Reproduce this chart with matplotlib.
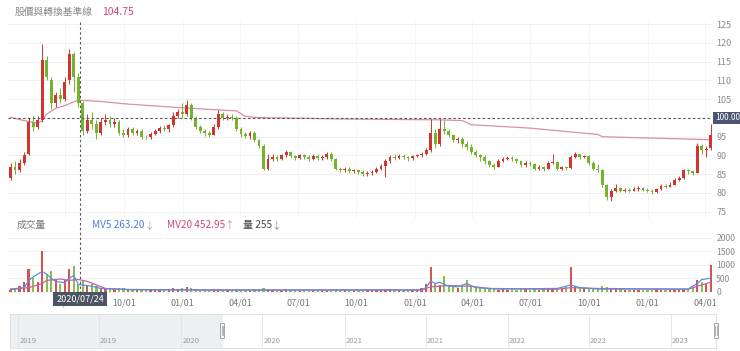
import numpy as np
import pandas as pd
import matplotlib
matplotlib.use('Agg')
import matplotlib.pyplot as plt
import matplotlib.dates as mdates
import matplotlib.transforms as mtrans
from matplotlib.ticker import FuncFormatter
from matplotlib.patches import Rectangle
from matplotlib.lines import Line2D

plt.rcParams['font.family'] = ['Noto Sans CJK TC', 'DejaVu Sans']

# ---------------- data (weekly bars) ----------------
bar_dates = pd.date_range('2020-04-06', '2023-04-10', periods=156)

opens = [84, 87, 86, 88, 90.5, 99, 97.5, 99.5, 115.5, 110,
         104, 106, 105, 110, 117, 111, 104, 96.5, 99.5, 98.5,
         96, 99, 99.5, 98.5, 99, 96, 95.5, 97, 96, 96.5,
         95, 94.8, 95.8, 96.5, 97.3, 97, 98, 100.5, 101.5, 101,
         103.5, 100, 97.5, 96.5, 96, 95.5, 97.5, 101, 100, 100.3,
         100, 97, 95.8, 95.2, 96, 94, 92.5, 86.5, 89, 89.5,
         89, 90, 91, 89.8, 89.3, 90, 89.5, 89, 89.8, 89.2,
         89.5, 90.5, 89, 86.5, 86, 86.3, 85.8, 86, 85.5, 85,
         85.2, 85.5, 86.5, 87.3, 88.5, 89.5, 89.3, 89.8, 89.5, 89.2,
         89.8, 90, 90.3, 91.5, 96, 93, 97, 96.5, 95.5, 94,
         94.5, 93, 92.3, 91, 90, 89.5, 88.5, 87.5, 87, 88.5,
         89, 89.3, 89, 88.5, 87.5, 88, 87.8, 86.5, 87, 86.5,
         88, 88.2, 86.5, 86.8, 86.6, 89.5, 90.3, 89.5, 89.8, 88,
         86.5, 86, 82, 79, 80.5, 81.3, 80.6, 80.8, 80.6, 81,
         81.2, 80.8, 80.5, 80.3, 81, 81.8, 81.7, 82.2, 83.5, 84,
         86, 85.8, 85.3, 92.5, 91.5, 92]

closes = [87, 86, 88, 90, 99, 97.5, 99.5, 115.5, 111, 104,
          106, 105, 109.5, 117, 111, 104, 96.5, 99.5, 98.5, 96,
          99, 99.5, 98.5, 99, 96, 95.5, 97, 96, 96.5, 95,
          94.8, 95.8, 96.5, 97.3, 97, 98, 100.5, 101.5, 101, 103.5,
          100, 97.5, 96.5, 96, 95.5, 97.5, 101, 100, 100.3, 100,
          97, 95.8, 95.2, 96, 94, 92.5, 86.5, 89, 89.5, 89,
          90, 91, 89.8, 89.3, 90, 89.5, 89, 89.8, 89.2, 89.5,
          90.5, 89, 86.5, 86, 86.3, 85.8, 86, 85.5, 85, 85.2,
          85.5, 86.5, 87.3, 88.5, 89.5, 89.3, 89.8, 89.5, 89.2, 89.8,
          90, 90.3, 91.5, 96, 93, 97, 96.5, 95.5, 94, 94.5,
          93, 92.3, 91, 90, 89.5, 88.5, 87.5, 87, 88.5, 89,
          89.3, 89, 88.5, 87.5, 88, 87.8, 86.5, 87, 86.5, 88,
          88.2, 86.5, 86.8, 86.6, 89.5, 90.3, 89.5, 89.8, 88, 86.5,
          86, 82, 79, 80.5, 81.3, 80.6, 80.8, 80.6, 81, 81.2,
          80.8, 80.5, 80.3, 81, 81.8, 81.7, 82.2, 83.5, 84, 86,
          85.8, 85.3, 92.5, 91.5, 91.8, 95.5]

highs = [88, 88.5, 89, 91, 100, 100.5, 100.5, 119.6, 116.5, 111,
         107, 108, 111, 118.5, 117.5, 112, 104.5, 101, 101.5, 99.5,
         100, 101, 100.5, 100, 99.5, 97, 97.5, 97.5, 97, 97,
         95.5, 96.3, 97, 97.8, 98, 98.5, 101.5, 102.5, 104, 104.8,
         104, 100.5, 98, 97, 96.5, 98.5, 102, 101.5, 101, 101,
         100.5, 97.5, 96.2, 96.5, 96.5, 94.5, 93, 90.5, 90.5, 90,
         90.5, 91.5, 91.2, 90.2, 90.5, 90.5, 90.2, 90.3, 90.5, 90,
         91, 90.8, 89.2, 87, 86.8, 86.8, 86.5, 86.3, 86, 85.8,
         86, 87, 87.8, 89, 90.2, 90.3, 90.4, 90.3, 89.8, 90.2,
         90.5, 90.8, 92, 99.8, 97, 99.6, 99.5, 97, 95.8, 95,
         95, 93.8, 93, 91.5, 90.5, 90, 88.8, 88, 89, 89.5,
         89.8, 89.8, 89.3, 88.8, 88.5, 88.5, 88, 87.5, 87.3, 88.5,
         90.3, 88.5, 87.3, 87.2, 90, 90.8, 90.5, 90, 90, 88.5,
         87.8, 86.5, 82.5, 81, 82.5, 81.5, 81.3, 81.2, 81.5, 81.8,
         81.5, 81.2, 81, 81.3, 82.3, 82.3, 82.8, 84, 84.5, 86.5,
         86.3, 86, 93.3, 93, 92.5, 98.5]

lows = [83.5, 85, 85.5, 87.5, 90, 96.5, 97, 99, 110, 102.5,
        103, 104, 104.5, 109, 107, 103, 95.5, 96, 97, 94.5,
        95.5, 98, 97.5, 97.5, 95.5, 94.8, 95, 95.5, 95.5, 94.5,
        94.3, 94.5, 95.5, 96, 96.5, 96.2, 97.5, 100, 100, 100.5,
        99.5, 97, 96, 95.3, 95, 95.5, 97, 99.5, 99.5, 99.5,
        96.5, 95, 94.7, 94.5, 93.5, 92, 86, 86, 88.5, 88.5,
        88.8, 89.5, 89.3, 88.8, 89, 89, 88.5, 88.7, 88.8, 88.8,
        89, 88.5, 86, 85.5, 85.5, 85.3, 85.3, 85, 84.5, 84.6,
        84.8, 85.2, 86.2, 84.3, 88, 88.8, 89, 89, 88.5, 88.8,
        89.5, 89.7, 90, 91, 92, 92.5, 95.8, 95, 93.5, 93.3,
        92.3, 91.5, 90.3, 89.5, 88.5, 87.8, 87, 86.3, 86.8, 88.2,
        88.8, 88.5, 88, 87, 87, 87.3, 86, 86, 85.8, 86.3,
        87.8, 86, 86.2, 86.2, 86.5, 89.2, 89, 89.2, 87.5, 86,
        85.5, 81.5, 78, 77.8, 80.3, 80.2, 80.3, 80.2, 80.4, 80.6,
        80.4, 80.2, 79.8, 80, 80.8, 81.3, 81.5, 82, 83.2, 83.8,
        85, 84.8, 85.2, 90.5, 89.5, 91.5]

volumes = [80, 150, 200, 350, 840, 500, 350, 1520, 650, 780,
           450, 300, 420, 840, 960, 280, 380, 250, 300, 200,
           150, 120, 130, 110, 150, 120, 90, 100, 80, 90,
           110, 80, 90, 100, 80, 90, 120, 100, 150, 180,
           120, 100, 80, 90, 80, 90, 110, 80, 70, 80,
           90, 80, 70, 80, 90, 100, 150, 110, 80, 70,
           80, 90, 70, 60, 70, 60, 70, 80, 60, 70,
           80, 70, 110, 80, 70, 60, 70, 60, 70, 60,
           70, 80, 90, 100, 90, 70, 80, 70, 60, 70,
           80, 120, 300, 930, 300, 250, 600, 200, 180, 150,
           200, 450, 200, 150, 120, 100, 90, 100, 80, 90,
           80, 90, 80, 90, 100, 80, 90, 80, 90, 100,
           110, 150, 120, 180, 900, 200, 180, 150, 120, 100,
           150, 200, 180, 120, 100, 90, 80, 70, 80, 70,
           80, 70, 80, 90, 80, 70, 80, 90, 80, 100,
           90, 150, 450, 350, 300, 1000]

# reference ("基準線") line, read at selected weeks
base_idx = [0, 3, 6, 7, 8, 10, 12, 14, 15, 20, 26, 37, 44, 50, 52, 55, 76, 95, 100, 102, 115, 130, 131, 155]
base_val = [100.2, 99.3, 98.6, 99.3, 101.0, 102.6, 103.3, 104.3, 104.75, 104.4, 103.7, 102.8, 102.3, 101.9,
            100.4, 100.1, 99.7, 99.5, 99.3, 98.2, 97.3, 95.6, 95.0, 94.2]

# volume moving averages read at selected weeks
mv5_idx = [0, 3, 4, 5, 7, 8, 9, 10, 12, 13, 14, 15, 16, 18, 20, 26, 42, 91, 92, 93, 94, 95, 97, 99, 101, 103,
           108, 121, 124, 126, 130, 150, 152, 153, 155]
mv5_val = [100, 150, 400, 550, 750, 650, 500, 380, 330, 500, 600, 270, 250, 200, 120, 80, 60, 70, 150, 400,
           300, 350, 200, 180, 300, 150, 100, 120, 250, 150, 100, 100, 300, 450, 500]
mv20_idx = [0, 4, 7, 8, 11, 13, 15, 17, 19, 21, 26, 53, 91, 93, 97, 102, 106, 121, 124, 130, 150, 152, 155]
mv20_val = [80, 150, 300, 420, 470, 420, 453, 380, 250, 120, 80, 60, 60, 180, 230, 200, 120, 90, 150, 120,
            90, 200, 350]

price_ticks = [75, 80, 85, 90, 95, 100, 105, 110, 115, 120, 125]
vol_ticks = [0, 500, 1000, 1500, 2000]
ref_level = 100.00
cross_date = '2020-07-24'
header_title = '股價與轉換基準線'
header_value = '104.75'
vol_title = '成交量'
mv5_label, mv5_now = 'MV5', '263.20'
mv20_label, mv20_now = 'MV20', '452.95'
vol_label, vol_now = '量', '255'

# ---------------- layout helpers ----------------
W, H = 740, 351
fig = plt.figure(figsize=(7.4, 3.51), dpi=100)
fig.patch.set_facecolor('white')


def fx(px):
    return px / W


def fy(py):
    return 1 - py / H


RED = '#d2352f'
GREEN = '#74b42c'
L, R = 8, 712
x0 = mdates.date2num(pd.Timestamp('2020-04-02'))
x1 = mdates.date2num(pd.Timestamp('2023-04-12'))
xd = mdates.date2num(bar_dates)

ax = fig.add_axes([fx(L), fy(218), fx(R - L), (218 - 22) / H])
axv = fig.add_axes([fx(L), fy(293), fx(R - L), (293 - 232) / H])

qlocator = mdates.MonthLocator(bymonth=[1, 4, 7, 10])

# ---------------- price pane ----------------
o = np.array(opens); c = np.array(closes); hi = np.array(highs); lo = np.array(lows)
up = c >= o
cols = np.where(up, RED, GREEN)
ax.vlines(xd, lo, hi, colors=cols, linewidth=0.7, zorder=3)
ax.bar(xd, np.maximum(np.abs(c - o), 0.25), bottom=np.minimum(o, c), width=4.4,
       color=cols, linewidth=0, zorder=3)
ax.plot(xd[base_idx], base_val, color='#d68fac', lw=0.9, zorder=2)
ax.axhline(ref_level, color='#555555', lw=0.8, ls=(0, (2.2, 2.2)), zorder=4)

ax.set_xlim(x0, x1)
ax.set_ylim(73.32, 125.6)
ax.set_yticks(price_ticks)
# the current-level box covers the 100 tick label, as in the reference
ax.yaxis.set_major_formatter(FuncFormatter(lambda v, p: '' if abs(v - ref_level) < 1e-6 else f'{v:g}'))
ax.yaxis.tick_right()
ax.tick_params(axis='y', length=0, pad=3, labelsize=6.5, labelcolor='#8a8a8a')
ax.xaxis.set_major_locator(qlocator)
ax.tick_params(axis='x', length=0, labelbottom=False)
ax.grid(axis='y', color='#ececec', lw=0.6)
ax.grid(axis='x', color='#f3f3f3', lw=0.6)
ax.set_axisbelow(True)
for s in ax.spines.values():
    s.set_visible(False)

blend = mtrans.blended_transform_factory(ax.transAxes, ax.transData)
ax.text(1.004, ref_level, f'{ref_level:.2f}', transform=blend, ha='left', va='center',
        fontsize=6.0, color='white', clip_on=False, zorder=6,
        bbox=dict(boxstyle='square,pad=0.22', fc='#4a5570', ec='none'))

# ---------------- volume pane ----------------
v = np.array(volumes)
axv.bar(xd, v, width=3.6, color=cols, alpha=0.85, linewidth=0, zorder=2)
axv.plot(xd[mv20_idx], mv20_val, color='#c862a0', lw=0.9, zorder=3)
axv.plot(xd[mv5_idx], mv5_val, color='#5a8ee0', lw=0.9, zorder=3)
axv.set_xlim(x0, x1)
axv.set_ylim(-48, 2211)
axv.set_yticks(vol_ticks)
axv.yaxis.tick_right()
axv.tick_params(axis='y', length=0, pad=3, labelsize=6.2, labelcolor='#8a8a8a')
axv.xaxis.set_major_locator(qlocator)
axv.xaxis.set_major_formatter(mdates.DateFormatter('%m/%d'))
axv.tick_params(axis='x', length=0, pad=4, labelsize=6.5, labelcolor='#777777')
axv.grid(axis='y', color='#f0f0f0', lw=0.6)
axv.set_axisbelow(True)
for s in axv.spines.values():
    s.set_visible(False)

# ---------------- crosshair + tooltip ----------------
cx = mdates.date2num(pd.Timestamp(cross_date))
xf = fx(L) + (cx - x0) / (x1 - x0) * fx(R - L)
fig.add_artist(Line2D([xf, xf], [fy(22), fy(293)], transform=fig.transFigure,
                      color='#555555', lw=0.8, ls=(0, (2.2, 2.2)), zorder=5))
fig.text(xf, fy(299), pd.Timestamp(cross_date).strftime('%Y/%m/%d'), ha='center', va='center',
         fontsize=6.5, color='white', zorder=10,
         bbox=dict(boxstyle='square,pad=0.3', fc='#4d5463', ec='none'))

# ---------------- headers ----------------
fig.text(fx(15), fy(12), header_title, fontsize=7, color='#8a8a8a', va='center', ha='left')
fig.text(fx(102), fy(12), header_value, fontsize=7.5, color='#c9487c', va='center', ha='left')

fig.text(fx(17), fy(225), vol_title, fontsize=7, color='#7a7a7a', va='center', ha='left')
fig.text(fx(92), fy(225), f'{mv5_label} {mv5_now}', fontsize=7.2, color='#4f7fd8', va='center', ha='left')
fig.text(fx(144), fy(225), '↓', fontsize=7, color='#8aa6dd', va='center', ha='left')
fig.text(fx(167), fy(225), f'{mv20_label} {mv20_now}', fontsize=7.2, color='#c9487c', va='center', ha='left')
fig.text(fx(224), fy(225), '↑', fontsize=7, color='#d88aa8', va='center', ha='left')
fig.text(fx(243), fy(225), f'{vol_label} {vol_now}', fontsize=7.2, color='#444444', va='center', ha='left')
fig.text(fx(271), fy(225), '↓', fontsize=7, color='#888888', va='center', ha='left')

# ---------------- navigator ----------------
nx0 = mdates.date2num(pd.Timestamp('2018-12-13'))
nx1 = x1
axn = fig.add_axes([fx(9.5), fy(347.5), fx(716 - 9.5), (347.5 - 313.5) / H])
axn.set_xlim(nx0, nx1)
axn.set_ylim(0, 1)
axn.axvspan(nx0, x0, color='#edf0f3', zorder=1)
nav_marks = pd.date_range('2019-01-01', '2023-01-01', freq='6MS')
for d in nav_marks:
    dn = mdates.date2num(d)
    axn.axvline(dn, color='#e2e2e2', lw=0.6, zorder=2)
    axn.text(dn + 3, 0.2, str(d.year), fontsize=5.5, color='#9a9a9a', ha='left', va='center', zorder=3)
for hx in (x0, x1):
    axn.add_patch(Rectangle((hx - 4.5, 0.28), 9, 0.44, fc='#f6f6f6', ec='#9a9a9a', lw=0.6,
                            zorder=5, clip_on=False))
    axn.plot([hx - 1.2, hx - 1.2], [0.38, 0.62], color='#9a9a9a', lw=0.5, zorder=6, clip_on=False)
    axn.plot([hx + 1.2, hx + 1.2], [0.38, 0.62], color='#9a9a9a', lw=0.5, zorder=6, clip_on=False)
axn.set_xticks([])
axn.set_yticks([])
for k, s in axn.spines.items():
    s.set_color('#dddddd')
    s.set_linewidth(0.6)

fig.savefig('out.png', dpi=100, facecolor='white')
